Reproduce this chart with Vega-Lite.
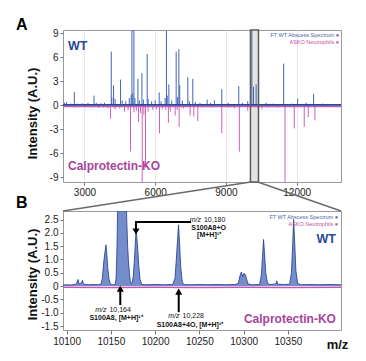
{
 "$schema": "https://vega.github.io/schema/vega-lite/v6.json",
 "padding": {"left": 15, "top": 16, "right": 5, "bottom": 5},
 "background": "white",
 "bounds": "flush",
 "spacing": 29,
 "config": {
  "font": "Liberation Sans",
  "view": {"stroke": "#9a9a9a", "strokeWidth": 1},
  "axis": {"labelFont": "Liberation Sans", "labelFontSize": 10, "labelColor": "#222", "labelOverlap": false, "tickColor": "#777", "tickSize": 3, "domain": false, "titleFont": "Liberation Sans", "titleFontSize": 13, "titleFontWeight": "bold", "titleColor": "#111", "grid": false}
 },
 "datasets": {
  "one": [{}],
  "boxA": [{"mz": 10040, "mz2": 10380}],
  "specA": [
   {"mz": 2150, "i": 0.3, "s": "WT"}, {"mz": 2232, "i": 0.4, "s": "WT"}, {"mz": 2420, "i": 0.2, "s": "WT"}, {"mz": 2571, "i": 1.66, "s": "WT"}, {"mz": 2700, "i": 0.2, "s": "WT"}, {"mz": 2900, "i": 0.25, "s": "WT"}, {"mz": 3150, "i": 0.3, "s": "WT"}, {"mz": 3405, "i": 1.2, "s": "WT"}, {"mz": 3500, "i": 0.3, "s": "WT"}, {"mz": 3700, "i": 0.25, "s": "WT"}, {"mz": 3850, "i": 0.3, "s": "WT"}, {"mz": 4137, "i": 6.7, "s": "WT"}, {"mz": 4160, "i": 1.0, "s": "WT"}, {"mz": 4235, "i": 2.5, "s": "WT"}, {"mz": 4300, "i": 0.8, "s": "WT"}, {"mz": 4531, "i": 3.2, "s": "WT"}, {"mz": 4600, "i": 0.6, "s": "WT"}, {"mz": 4750, "i": 0.5, "s": "WT"}, {"mz": 4900, "i": 0.9, "s": "WT"}, {"mz": 4980, "i": 1.3, "s": "WT"}, {"mz": 5014, "i": 9.8, "s": "WT"}, {"mz": 5050, "i": 1.5, "s": "WT"}, {"mz": 5098, "i": 9.8, "s": "WT"}, {"mz": 5140, "i": 0.9, "s": "WT"}, {"mz": 5268, "i": 3.3, "s": "WT"}, {"mz": 5330, "i": 0.6, "s": "WT"}, {"mz": 5437, "i": 4.0, "s": "WT"}, {"mz": 5500, "i": 0.7, "s": "WT"}, {"mz": 5661, "i": 6.4, "s": "WT"}, {"mz": 5700, "i": 0.8, "s": "WT"}, {"mz": 5850, "i": 0.5, "s": "WT"}, {"mz": 6000, "i": 0.6, "s": "WT"}, {"mz": 6169, "i": 1.6, "s": "WT"}, {"mz": 6250, "i": 0.5, "s": "WT"}, {"mz": 6420, "i": 0.9, "s": "WT"}, {"mz": 6478, "i": 9.3, "s": "WT"}, {"mz": 6510, "i": 1.2, "s": "WT"}, {"mz": 6580, "i": 2.6, "s": "WT"}, {"mz": 6700, "i": 0.6, "s": "WT"}, {"mz": 6889, "i": 6.7, "s": "WT"}, {"mz": 6950, "i": 1.0, "s": "WT"}, {"mz": 7003, "i": 7.0, "s": "WT"}, {"mz": 7040, "i": 2.5, "s": "WT"}, {"mz": 7150, "i": 0.6, "s": "WT"}, {"mz": 7384, "i": 3.5, "s": "WT"}, {"mz": 7450, "i": 0.5, "s": "WT"}, {"mz": 7596, "i": 3.3, "s": "WT"}, {"mz": 7700, "i": 0.4, "s": "WT"}, {"mz": 7900, "i": 0.3, "s": "WT"}, {"mz": 8202, "i": 0.7, "s": "WT"}, {"mz": 8350, "i": 0.3, "s": "WT"}, {"mz": 8511, "i": 0.6, "s": "WT"}, {"mz": 8824, "i": 2.0, "s": "WT"}, {"mz": 9100, "i": 0.3, "s": "WT"}, {"mz": 9544, "i": 2.4, "s": "WT"}, {"mz": 9700, "i": 0.3, "s": "WT"}, {"mz": 9925, "i": 0.5, "s": "WT"}, {"mz": 10100, "i": 9.8, "s": "WT"}, {"mz": 10170, "i": 2.3, "s": "WT"}, {"mz": 10280, "i": 2.6, "s": "WT"}, {"mz": 10385, "i": 4.5, "s": "WT"}, {"mz": 10700, "i": 0.3, "s": "WT"}, {"mz": 11000, "i": 0.2, "s": "WT"}, {"mz": 11449, "i": 5.2, "s": "WT"}, {"mz": 11800, "i": 0.2, "s": "WT"}, {"mz": 12041, "i": 0.8, "s": "WT"}, {"mz": 12393, "i": 0.3, "s": "WT"}, {"mz": 12719, "i": 1.45, "s": "WT"}, {"mz": 13100, "i": 0.2, "s": "WT"},
   {"mz": 2300, "i": -0.2, "s": "KO"}, {"mz": 2600, "i": -0.3, "s": "KO"}, {"mz": 3000, "i": -0.25, "s": "KO"}, {"mz": 3300, "i": -0.3, "s": "KO"}, {"mz": 3600, "i": -0.35, "s": "KO"}, {"mz": 3800, "i": -0.3, "s": "KO"}, {"mz": 4000, "i": -0.4, "s": "KO"}, {"mz": 4108, "i": -1.7, "s": "KO"}, {"mz": 4300, "i": -0.5, "s": "KO"}, {"mz": 4500, "i": -0.4, "s": "KO"}, {"mz": 4700, "i": -0.8, "s": "KO"}, {"mz": 4850, "i": -0.6, "s": "KO"}, {"mz": 4954, "i": -5.8, "s": "KO"}, {"mz": 5100, "i": -0.9, "s": "KO"}, {"mz": 5200, "i": -0.7, "s": "KO"}, {"mz": 5293, "i": -2.1, "s": "KO"}, {"mz": 5380, "i": -1.0, "s": "KO"}, {"mz": 5450, "i": -9.8, "s": "KO"}, {"mz": 5520, "i": -1.2, "s": "KO"}, {"mz": 5589, "i": -7.8, "s": "KO"}, {"mz": 5700, "i": -0.8, "s": "KO"}, {"mz": 5900, "i": -0.6, "s": "KO"}, {"mz": 6050, "i": -0.5, "s": "KO"}, {"mz": 6182, "i": -3.5, "s": "KO"}, {"mz": 6300, "i": -0.5, "s": "KO"}, {"mz": 6450, "i": -0.6, "s": "KO"}, {"mz": 6560, "i": -2.2, "s": "KO"}, {"mz": 6640, "i": -0.8, "s": "KO"}, {"mz": 6847, "i": -1.3, "s": "KO"}, {"mz": 6930, "i": -0.6, "s": "KO"}, {"mz": 7016, "i": -2.7, "s": "KO"}, {"mz": 7200, "i": -0.4, "s": "KO"}, {"mz": 7482, "i": -1.3, "s": "KO"}, {"mz": 7638, "i": -1.4, "s": "KO"}, {"mz": 7808, "i": -2.0, "s": "KO"}, {"mz": 8000, "i": -0.3, "s": "KO"}, {"mz": 8400, "i": -0.3, "s": "KO"}, {"mz": 8824, "i": -3.5, "s": "KO"}, {"mz": 9100, "i": -0.3, "s": "KO"}, {"mz": 9357, "i": -0.4, "s": "KO"}, {"mz": 9569, "i": -5.8, "s": "KO"}, {"mz": 9925, "i": -0.7, "s": "KO"}, {"mz": 10385, "i": -9.8, "s": "KO"}, {"mz": 10528, "i": -0.5, "s": "KO"}, {"mz": 10800, "i": -0.3, "s": "KO"}, {"mz": 11195, "i": -0.3, "s": "KO"}, {"mz": 11504, "i": -9.8, "s": "KO"}, {"mz": 11898, "i": -2.9, "s": "KO"}, {"mz": 12321, "i": -2.7, "s": "KO"}, {"mz": 12490, "i": -1.5, "s": "KO"}, {"mz": 12774, "i": -1.9, "s": "KO"}, {"mz": 13200, "i": -0.2, "s": "KO"}
  ],
  "specB": [
   {"mz": 10096, "i": 0.04, "s": "WT"}, {"mz": 10100, "i": 0.05, "s": "WT"}, {"mz": 10105, "i": 0.04, "s": "WT"}, {"mz": 10110, "i": 0.06, "s": "WT"}, {"mz": 10112, "i": 0.15, "s": "WT"}, {"mz": 10113, "i": 0.25, "s": "WT"}, {"mz": 10114, "i": 0.08, "s": "WT"}, {"mz": 10117, "i": 0.12, "s": "WT"}, {"mz": 10118, "i": 0.22, "s": "WT"}, {"mz": 10119, "i": 0.07, "s": "WT"}, {"mz": 10125, "i": 0.05, "s": "WT"}, {"mz": 10130, "i": 0.06, "s": "WT"}, {"mz": 10135, "i": 0.05, "s": "WT"}, {"mz": 10139, "i": 0.07, "s": "WT"}, {"mz": 10140.5, "i": 0.3, "s": "WT"}, {"mz": 10142, "i": 0.9, "s": "WT"}, {"mz": 10143.5, "i": 1.3, "s": "WT"}, {"mz": 10144.5, "i": 1.55, "s": "WT"}, {"mz": 10145.5, "i": 1.2, "s": "WT"}, {"mz": 10146.5, "i": 0.7, "s": "WT"}, {"mz": 10148, "i": 0.25, "s": "WT"}, {"mz": 10149.5, "i": 0.08, "s": "WT"}, {"mz": 10152, "i": 0.05, "s": "WT"}, {"mz": 10155, "i": 0.06, "s": "WT"}, {"mz": 10156, "i": 0.3, "s": "WT"}, {"mz": 10157, "i": 1.5, "s": "WT"}, {"mz": 10158, "i": 3.5, "s": "WT"}, {"mz": 10159, "i": 4.5, "s": "WT"}, {"mz": 10160, "i": 5, "s": "WT"}, {"mz": 10162, "i": 4.5, "s": "WT"}, {"mz": 10164, "i": 5, "s": "WT"}, {"mz": 10166, "i": 5, "s": "WT"}, {"mz": 10167, "i": 4, "s": "WT"}, {"mz": 10168, "i": 2.5, "s": "WT"}, {"mz": 10169, "i": 1.5, "s": "WT"}, {"mz": 10170, "i": 0.9, "s": "WT"}, {"mz": 10171, "i": 0.5, "s": "WT"}, {"mz": 10172, "i": 0.2, "s": "WT"}, {"mz": 10173, "i": 0.08, "s": "WT"}, {"mz": 10174, "i": 0.1, "s": "WT"}, {"mz": 10175.5, "i": 0.4, "s": "WT"}, {"mz": 10177, "i": 1.2, "s": "WT"}, {"mz": 10178.5, "i": 2.1, "s": "WT"}, {"mz": 10180, "i": 1.6, "s": "WT"}, {"mz": 10181.5, "i": 0.8, "s": "WT"}, {"mz": 10183, "i": 0.25, "s": "WT"}, {"mz": 10185, "i": 0.06, "s": "WT"}, {"mz": 10190, "i": 0.05, "s": "WT"}, {"mz": 10200, "i": 0.06, "s": "WT"}, {"mz": 10210, "i": 0.05, "s": "WT"}, {"mz": 10220, "i": 0.06, "s": "WT"}, {"mz": 10222.5, "i": 0.3, "s": "WT"}, {"mz": 10224, "i": 1.0, "s": "WT"}, {"mz": 10225.5, "i": 1.8, "s": "WT"}, {"mz": 10226.5, "i": 2.3, "s": "WT"}, {"mz": 10227.5, "i": 1.7, "s": "WT"}, {"mz": 10229, "i": 0.7, "s": "WT"}, {"mz": 10230.5, "i": 0.2, "s": "WT"}, {"mz": 10232, "i": 0.06, "s": "WT"}, {"mz": 10240, "i": 0.05, "s": "WT"}, {"mz": 10250, "i": 0.06, "s": "WT"}, {"mz": 10260, "i": 0.05, "s": "WT"}, {"mz": 10270, "i": 0.06, "s": "WT"}, {"mz": 10280, "i": 0.05, "s": "WT"}, {"mz": 10290, "i": 0.06, "s": "WT"}, {"mz": 10294, "i": 0.1, "s": "WT"}, {"mz": 10296, "i": 0.4, "s": "WT"}, {"mz": 10297.5, "i": 0.53, "s": "WT"}, {"mz": 10299, "i": 0.35, "s": "WT"}, {"mz": 10300.5, "i": 0.48, "s": "WT"}, {"mz": 10302, "i": 0.42, "s": "WT"}, {"mz": 10303.5, "i": 0.25, "s": "WT"}, {"mz": 10305, "i": 0.08, "s": "WT"}, {"mz": 10310, "i": 0.05, "s": "WT"}, {"mz": 10318, "i": 0.06, "s": "WT"}, {"mz": 10320, "i": 0.4, "s": "WT"}, {"mz": 10321.5, "i": 1.2, "s": "WT"}, {"mz": 10322.5, "i": 1.75, "s": "WT"}, {"mz": 10323.5, "i": 1.3, "s": "WT"}, {"mz": 10325, "i": 0.5, "s": "WT"}, {"mz": 10327, "i": 0.1, "s": "WT"}, {"mz": 10330, "i": 0.06, "s": "WT"}, {"mz": 10336.5, "i": 0.08, "s": "WT"}, {"mz": 10337.5, "i": 0.2, "s": "WT"}, {"mz": 10338.5, "i": 0.07, "s": "WT"}, {"mz": 10345, "i": 0.06, "s": "WT"}, {"mz": 10352, "i": 0.07, "s": "WT"}, {"mz": 10354, "i": 0.5, "s": "WT"}, {"mz": 10355.5, "i": 1.6, "s": "WT"}, {"mz": 10356.5, "i": 2.5, "s": "WT"}, {"mz": 10357.5, "i": 1.8, "s": "WT"}, {"mz": 10359, "i": 0.6, "s": "WT"}, {"mz": 10361, "i": 0.1, "s": "WT"}, {"mz": 10365, "i": 0.05, "s": "WT"}, {"mz": 10375, "i": 0.06, "s": "WT"}, {"mz": 10385, "i": 0.05, "s": "WT"}, {"mz": 10395, "i": 0.06, "s": "WT"}, {"mz": 10410, "i": 0.05, "s": "WT"},
   {"mz": 10096, "i": -0.04, "s": "KO"}, {"mz": 10150, "i": -0.05, "s": "KO"}, {"mz": 10200, "i": -0.04, "s": "KO"}, {"mz": 10250, "i": -0.05, "s": "KO"}, {"mz": 10300, "i": -0.04, "s": "KO"}, {"mz": 10350, "i": -0.05, "s": "KO"}, {"mz": 10410, "i": -0.04, "s": "KO"}
  ],
  "zoomLines": [
   {"side": "L", "o": 0, "mz": 10096, "i": 2.82}, {"side": "L", "o": 1, "mz": 10308, "i": 3.91},
   {"side": "R", "o": 0, "mz": 10410, "i": 2.82}, {"side": "R", "o": 1, "mz": 10316, "i": 3.91}
  ],
  "arrows": [
   {"id": "a1", "o": 0, "mz": 10240.6, "i": 2.41}, {"id": "a1", "o": 1, "mz": 10178.4, "i": 2.41}, {"id": "a1", "o": 2, "mz": 10178.4, "i": 2.05},
   {"id": "a2", "o": 0, "mz": 10160.7, "i": -0.71}, {"id": "a2", "o": 1, "mz": 10160.7, "i": -0.1},
   {"id": "a3", "o": 0, "mz": 10226.7, "i": -0.98}, {"id": "a3", "o": 1, "mz": 10226.7, "i": -0.21}
  ],
  "heads": [
   {"mz": 10178.4, "i": 2.05, "dir": "down"}, {"mz": 10160.7, "i": -0.1, "dir": "up"}, {"mz": 10226.7, "i": -0.21, "dir": "up"}
  ],
  "notes": [
   {"mz": 10253.5, "i": 2.47, "n": "10,180"}, {"mz": 10146.8, "i": -0.88, "n": "10,164"}, {"mz": 10229.3, "i": -1.13, "n": "10,228"}
  ],
  "names": [
   {"mz": 10260.5, "i": 2.2, "t": "S100A8+O"}, {"mz": 10261, "i": 1.93, "t": "[M+H]¹⁺"}, {"mz": 10155.9, "i": -1.19, "t": "S100A8,  [M+H]¹⁺"}, {"mz": 10239.4, "i": -1.48, "t": "S100A8+4O, [M+H]¹⁺"}
  ]
 },
 "vconcat": [
  {
   "width": 278, "height": 152,
   "layer": [
    {
     "data": {"name": "boxA"},
     "mark": {"type": "rect", "fill": "#e4e4e4"},
     "encoding": {
      "x": {"field": "mz", "type": "quantitative", "title": null, "scale": {"domain": [2090, 13880], "nice": false, "zero": false}, "axis": {"title": null, "values": [3000, 6000, 9000, 12000], "tickCount": 20, "format": "d", "grid": true, "gridColor": "#e8e8e8", "labelPadding": 2, "labelOverlap": false}},
      "x2": {"field": "mz2"},
      "y": {"datum": 9.4, "type": "quantitative", "scale": {"domain": [-9.6, 9.4], "nice": false, "zero": false}, "axis": {"title": "Intensity (A.U.)", "values": [-9, -6, -3, 0, 3, 6, 9], "tickCount": 20, "labelExpr": "datum.value < 0 ? '-' + format(-datum.value, 'd') : format(datum.value, 'd')", "titleX": -31, "titleY": 83, "titleAlign": "center", "titleBaseline": "middle", "labelPadding": 2, "labelOverlap": false, "labelBound": false, "labelFlush": false}},
      "y2": {"datum": -9.6}
     }
    },
    {
     "data": {"name": "specA"},
     "mark": {"type": "rule", "strokeWidth": 1, "clip": true},
     "encoding": {
      "x": {"field": "mz", "type": "quantitative", "title": null},
      "y": {"field": "i", "type": "quantitative", "title": "Intensity (A.U.)"},
      "y2": {"datum": 0},
      "color": {"field": "s", "type": "nominal", "scale": {"domain": ["WT", "KO"], "range": ["#4164b8", "#cf62b8"]}, "legend": null}
     }
    },
    {"data": {"name": "one"}, "mark": {"type": "rule", "color": "#c45ab0", "strokeWidth": 1.5}, "encoding": {"y": {"datum": -0.15}}},
    {"data": {"name": "one"}, "mark": {"type": "rule", "color": "#28479a", "strokeWidth": 1.8}, "encoding": {"y": {"datum": 0.05}}},
    {
     "data": {"name": "boxA"},
     "mark": {"type": "rect", "fill": null, "stroke": "#5c5c5c", "strokeWidth": 1.5, "clip": false},
     "encoding": {"x": {"field": "mz", "type": "quantitative", "title": null}, "x2": {"field": "mz2"}, "y": {"datum": 9.4}, "y2": {"datum": -9.6}}
    },
    {"data": {"name": "one"}, "mark": {"type": "text", "text": "A", "align": "left", "baseline": "alphabetic", "dy": 0, "fontSize": 16, "fontWeight": "bold", "color": "#000", "clip": false}, "encoding": {"x": {"datum": 97}, "y": {"datum": 9.4}}},
    {"data": {"name": "one"}, "mark": {"type": "text", "text": "WT", "align": "left", "baseline": "middle", "fontSize": 12.5, "fontWeight": "bold", "color": "#2b4a9b"}, "encoding": {"x": {"datum": 2302}, "y": {"datum": 7.34}}},
    {"data": {"name": "one"}, "mark": {"type": "text", "text": "Calprotectin-KO", "align": "left", "baseline": "middle", "fontSize": 12, "fontWeight": "bold", "color": "#a8449c"}, "encoding": {"x": {"datum": 2302}, "y": {"datum": -7.6}}},
    {"data": {"name": "one"}, "mark": {"type": "text", "text": "FT WT Abscess Spectrum ●", "align": "right", "baseline": "middle", "fontSize": 5.5, "color": "#4a66b0"}, "encoding": {"x": {"datum": 13795}, "y": {"datum": 8.81}}},
    {"data": {"name": "one"}, "mark": {"type": "text", "text": "ASKO Neutrophils ●", "align": "right", "baseline": "middle", "fontSize": 5.5, "color": "#c050a8"}, "encoding": {"x": {"datum": 13795}, "y": {"datum": 7.9}}}
   ]
  },
  {
   "width": 278, "height": 119,
   "layer": [
    {
     "data": {"name": "specB"},
     "transform": [{"filter": "datum.s == 'WT'"}],
     "mark": {"type": "area", "color": "#3a5db4", "clip": true, "line": {"color": "#1d3b8c", "strokeWidth": 0.8}},
     "encoding": {
      "x": {"field": "mz", "type": "quantitative", "title": "m/z", "scale": {"domain": [10096, 10410], "nice": false, "zero": false}, "axis": {"title": "m/z", "values": [10100, 10150, 10200, 10250, 10300, 10350], "tickCount": 20, "format": "d", "labelPadding": 2, "tickSize": 4, "titleX": 274, "titleY": 14, "titleAlign": "center", "titleBaseline": "middle", "labelOverlap": false}},
      "y": {"field": "i", "type": "quantitative", "title": "Intensity (A.U.)", "scale": {"domain": [-1.65, 2.82], "nice": false, "zero": false}, "axis": {"title": "Intensity (A.U.)", "values": [-1.5, -1, -0.5, 0, 0.5, 1, 1.5, 2, 2.5], "tickCount": 20, "labelExpr": "datum.value == 0 ? '0' : (datum.value < 0 ? '-' + format(-datum.value, '.1f') : format(datum.value, '.1f'))", "titleX": -31, "titleY": 63, "titleAlign": "center", "titleBaseline": "middle", "labelPadding": 2, "labelOverlap": false, "labelBound": false, "labelFlush": false}},
      "y2": {"datum": 0}
     }
    },
    {
     "data": {"name": "specB"},
     "transform": [{"filter": "datum.s == 'KO'"}],
     "mark": {"type": "line", "color": "#c455b0", "strokeWidth": 1.5},
     "encoding": {"x": {"field": "mz", "type": "quantitative", "title": "m/z"}, "y": {"field": "i", "type": "quantitative", "title": "Intensity (A.U.)"}}
    },
    {
     "data": {"name": "zoomLines"},
     "mark": {"type": "line", "color": "#6a6a6a", "strokeWidth": 1.5, "clip": false},
     "encoding": {"x": {"field": "mz", "type": "quantitative", "title": "m/z"}, "y": {"field": "i", "type": "quantitative", "title": "Intensity (A.U.)"}, "detail": {"field": "side"}, "order": {"field": "o"}}
    },
    {
     "data": {"name": "arrows"},
     "mark": {"type": "line", "color": "#000", "strokeWidth": 2},
     "encoding": {"x": {"field": "mz", "type": "quantitative", "title": "m/z"}, "y": {"field": "i", "type": "quantitative", "title": "Intensity (A.U.)"}, "detail": {"field": "id"}, "order": {"field": "o"}}
    },
    {
     "data": {"name": "heads"},
     "mark": {"type": "point", "filled": true, "color": "#000", "size": 50, "opacity": 1},
     "encoding": {"x": {"field": "mz", "type": "quantitative", "title": "m/z"}, "y": {"field": "i", "type": "quantitative", "title": "Intensity (A.U.)"}, "shape": {"field": "dir", "type": "nominal", "scale": {"domain": ["down", "up"], "range": ["triangle-down", "triangle-up"]}, "legend": null}}
    },
    {
     "data": {"name": "notes"},
     "mark": {"type": "text", "text": "m/z", "align": "right", "baseline": "middle", "dx": -1.5, "fontSize": 7, "fontStyle": "italic", "color": "#111"},
     "encoding": {"x": {"field": "mz", "type": "quantitative", "title": "m/z"}, "y": {"field": "i", "type": "quantitative", "title": "Intensity (A.U.)"}}
    },
    {
     "data": {"name": "notes"},
     "mark": {"type": "text", "align": "left", "baseline": "middle", "dx": 1.5, "fontSize": 7, "color": "#111"},
     "encoding": {"x": {"field": "mz", "type": "quantitative", "title": "m/z"}, "y": {"field": "i", "type": "quantitative", "title": "Intensity (A.U.)"}, "text": {"field": "n"}}
    },
    {
     "data": {"name": "names"},
     "mark": {"type": "text", "align": "center", "baseline": "middle", "fontSize": 7, "fontWeight": "bold", "color": "#111"},
     "encoding": {"x": {"field": "mz", "type": "quantitative", "title": "m/z"}, "y": {"field": "i", "type": "quantitative", "title": "Intensity (A.U.)"}, "text": {"field": "t"}}
    },
    {"data": {"name": "one"}, "mark": {"type": "text", "text": "B", "align": "left", "baseline": "alphabetic", "dy": -3.5, "fontSize": 16, "fontWeight": "bold", "color": "#000", "clip": false}, "encoding": {"x": {"datum": 10043}, "y": {"datum": 2.82}}},
    {"data": {"name": "one"}, "mark": {"type": "text", "text": "WT", "align": "right", "baseline": "middle", "fontSize": 12.5, "fontWeight": "bold", "color": "#2b4a9b"}, "encoding": {"x": {"datum": 10404.3}, "y": {"datum": 1.78}}},
    {"data": {"name": "one"}, "mark": {"type": "text", "text": "Calprotectin-KO", "align": "right", "baseline": "middle", "fontSize": 12, "fontWeight": "bold", "color": "#a8449c"}, "encoding": {"x": {"datum": 10404.3}, "y": {"datum": -1.23}}},
    {"data": {"name": "one"}, "mark": {"type": "text", "text": "FT WT Abscess Spectrum ●", "align": "right", "baseline": "middle", "fontSize": 5.5, "color": "#4a66b0"}, "encoding": {"x": {"datum": 10406.6}, "y": {"datum": 2.59}}},
    {"data": {"name": "one"}, "mark": {"type": "text", "text": "ASKO Neutrophils ●", "align": "right", "baseline": "middle", "fontSize": 5.5, "color": "#c050a8"}, "encoding": {"x": {"datum": 10406.6}, "y": {"datum": 2.32}}}
   ]
  }
 ]
}
